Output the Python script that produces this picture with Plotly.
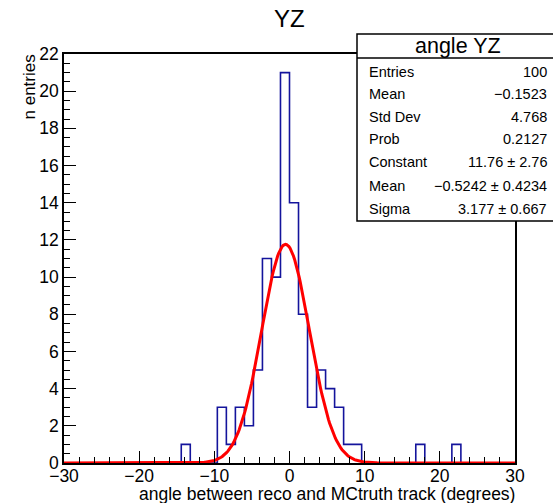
import numpy as np
import plotly.graph_objects as go

# ---- data ----
x_min, x_max, n_bins = -30.0, 30.0, 50
counts = [0, 0, 0, 0, 0, 0, 0, 0, 0, 0,
          0, 0, 0, 1, 0, 0, 0, 3, 1, 3,
          2, 5, 11, 10, 21, 14, 8, 3, 5, 4,
          3, 1, 1, 0, 0, 0, 0, 0, 0, 1,
          0, 0, 0, 1, 0, 0, 0, 0, 0, 0]
fit_constant, fit_mean, fit_sigma = 11.76, -0.5242, 3.177

stats_labels = ["Entries", "Mean", "Std Dev", "Prob", "Constant", "Mean", "Sigma"]
stats_values = ["100", "\u22120.1523", "4.768", "0.2127", "11.76 \u00b1 2.76",
                "\u22120.5242 \u00b1 0.4234", "3.177 \u00b1 0.667"]

# ---- geometry helpers (pixels -> paper) ----
L, R, T, B = 64, 515, 54, 463
W, H = 553, 503
def px(x):
    return (x - L) / (R - L)
def py(y):
    return (B - y) / (B - T)

edges = np.linspace(x_min, x_max, n_bins + 1)
hx = list(edges)
hy = list(counts) + [counts[-1]]

fx = np.linspace(x_min, x_max, 400)
fy = fit_constant * np.exp(-0.5 * ((fx - fit_mean) / fit_sigma) ** 2)

FONT = "Liberation Sans, Arial, Helvetica, sans-serif"

fig = go.Figure()
fig.add_trace(go.Scatter(x=hx, y=hy, mode="lines", line=dict(shape="hv", color="#14149c", width=1.6),
                         showlegend=False, hoverinfo="skip"))
fig.add_trace(go.Scatter(x=fx, y=fy, mode="lines", line=dict(color="#ff0000", width=3),
                         showlegend=False, hoverinfo="skip"))

fig.update_layout(
    width=W, height=H,
    margin=dict(l=L, r=W - R, t=T, b=H - B),
    paper_bgcolor="white", plot_bgcolor="white",
    font=dict(family=FONT, color="black"),
    showlegend=False,
    xaxis=dict(range=[x_min, x_max], showgrid=False, zeroline=False,
               showline=True, linecolor="black", linewidth=1.5, mirror=True,
               ticks="inside", ticklen=12, tickwidth=1.3, tickcolor="black",
               tick0=-30, dtick=10, ticklabelstandoff=-4,
               minor=dict(ticks="inside", ticklen=6, tickwidth=1.3, tickcolor="black", dtick=2),
               tickfont=dict(size=17.5, family=FONT)),
    yaxis=dict(range=[0, 22], showgrid=False, zeroline=False,
               showline=True, linecolor="black", linewidth=1.5, mirror=True,
               ticks="inside", ticklen=12, tickwidth=1.3, tickcolor="black",
               tick0=0, dtick=2,
               minor=dict(ticks="inside", ticklen=6, tickwidth=1.3, tickcolor="black", dtick=0.5),
               tickfont=dict(size=17.5, family=FONT)),
)

ann = []
# title
ann.append(dict(text="YZ", x=px(289), y=py(18), xref="paper", yref="paper",
                showarrow=False, font=dict(size=24), xanchor="center", yanchor="middle"))
# axis titles
ann.append(dict(text="angle between reco and MCtruth track (degrees)", x=px(517), y=py(494),
                xref="paper", yref="paper", showarrow=False, font=dict(size=17.5),
                xanchor="right", yanchor="middle"))
ann.append(dict(text="n entries", x=px(29), y=py(53), xref="paper", yref="paper",
                showarrow=False, font=dict(size=17), textangle=-90,
                xanchor="center", yanchor="top"))

shapes = []
# stats box
shapes.append(dict(type="rect", xref="paper", yref="paper", x0=px(357), x1=px(570),
                   y0=py(221), y1=py(34), fillcolor="white", line=dict(color="black", width=1.5),
                   layer="above"))
shapes.append(dict(type="line", xref="paper", yref="paper", x0=px(357), x1=px(570),
                   y0=py(58), y1=py(58), line=dict(color="black", width=1.5), layer="above"))
ann.append(dict(text="angle YZ", x=px(458), y=py(46), xref="paper", yref="paper",
                showarrow=False, font=dict(size=21.5), xanchor="center", yanchor="middle"))
row_y = [72, 94, 117, 139, 162, 186, 209]
for lab, val, yy in zip(stats_labels, stats_values, row_y):
    ann.append(dict(text=lab, x=px(367), y=py(yy), xref="paper", yref="paper",
                    showarrow=False, font=dict(size=14.5), xanchor="left", yanchor="middle"))
    ann.append(dict(text=val, x=px(549), y=py(yy), xref="paper", yref="paper",
                    showarrow=False, font=dict(size=14.5), xanchor="right", yanchor="middle"))

fig.update_layout(annotations=ann, shapes=shapes)
fig.write_html("out.html")
